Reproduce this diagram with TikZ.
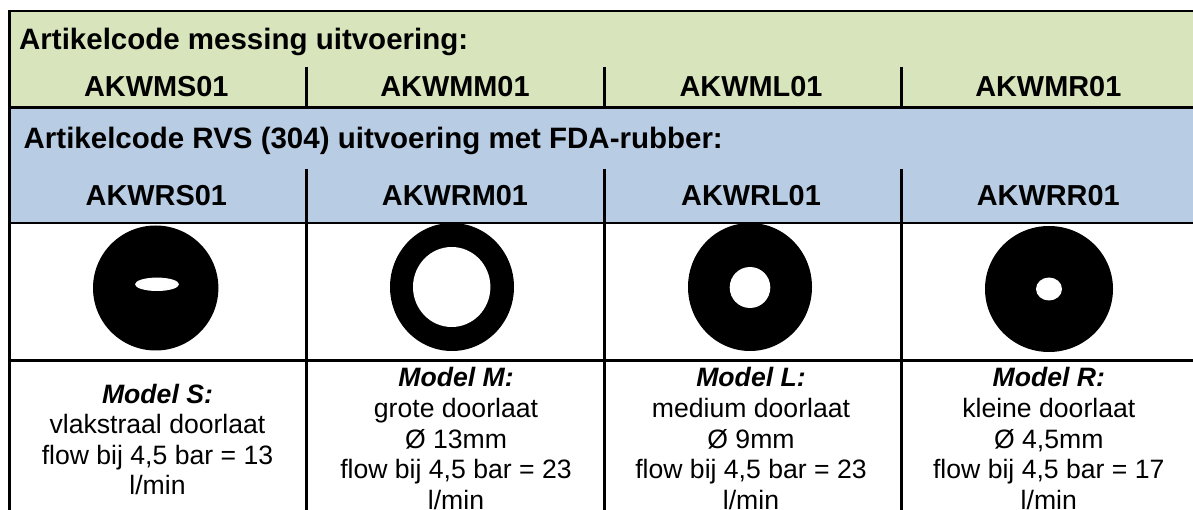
\documentclass[tikz,border=0pt]{standalone}
\usepackage{fontspec}
\setmainfont{Liberation Sans}
\definecolor{grn}{HTML}{D8E4BC}
\definecolor{blu}{HTML}{B8CCE4}
\tikzset{
 line/.style={draw=black,line width=2.6pt},
 code/.style={font=\bfseries\fontsize{29.0}{32}\selectfont,anchor=base,inner sep=0},
 head/.style={font=\bfseries\fontsize{29.6}{32}\selectfont,anchor=base west,inner sep=0},
 desc/.style={font=\fontsize{26.7}{30.7}\selectfont,align=center,anchor=center,inner sep=0},
}
\begin{document}
\begin{tikzpicture}[x=1bp,y=-1bp,every node/.append style={text=black}]
\useasboundingbox (0,0) rectangle (1193,510);
\fill[white] (0,0) rectangle (1193,510);
\fill[grn] (10,11) rectangle (1193,107);
\fill[blu] (10,107) rectangle (1193,223);
\draw[line] (1193,11) -- (9.5,11) -- (9.5,510);
\draw[line] (10,107.5) -- (1193,107.5);
\draw[line] (10,223.2) -- (1193,223.2);
\draw[line] (10,360.5) -- (1193,360.5);
\foreach \x/\w in {306.3/0,604.5/0,901.5/0}{
 \draw[line] (\x,67) -- (\x,107);
 \draw[line] (\x,169) -- (\x,510);
}
\node[head] (h1) at (19,49.3) {Artikelcode messing uitvoering:};
\node[head] (h2) at (23.5,149) {Artikelcode RVS (304) uitvoering met FDA-rubber:};
\node[code] (a1) at (156.3,96.5) {AKWMS01};
\node[code] (a2) at (455,96.5) {AKWMM01};
\node[code] (a3) at (751,96.5) {AKWML01};
\node[code] (a4) at (1048.3,96.5) {AKWMR01};
\node[code] (b1) at (156.3,206) {AKWRS01};
\node[code] (b2) at (455,206) {AKWRM01};
\node[code] (b3) at (751,206) {AKWRL01};
\node[code] (b4) at (1048.3,206) {AKWRR01};
% discs
\fill[black] (155.7,288) ellipse (62.7 and 62.5);
\fill[white] (157,284.3) ellipse (22 and 6.7);
\fill[black] (452,287) ellipse (62 and 64);
\fill[white] (451.7,287) ellipse (38.7 and 40);
\fill[black] (750,287) ellipse (62 and 64);
\fill[white] (750,287.5) ellipse (20.3 and 20.5);
\fill[black] (1049,289) ellipse (64 and 63);
\fill[white] (1049,289) ellipse (13 and 11.5);
\node[desc] (d1) at (157.5,439.5) {\textbf{\textit{Model S:}}\\vlakstraal doorlaat\\flow bij 4,5 bar = 13\\l/min};
\node[desc] (d2) at (456,438.5) {\textbf{\textit{Model M:}}\\grote doorlaat\\Ø 13mm\\flow bij 4,5 bar = 23\\l/min};
\node[desc] (d3) at (751,438.5) {\textbf{\textit{Model L:}}\\medium doorlaat\\Ø 9mm\\flow bij 4,5 bar = 23\\l/min};
\node[desc] (d4) at (1048.8,438.5) {\textbf{\textit{Model R:}}\\kleine doorlaat\\Ø 4,5mm\\flow bij 4,5 bar = 17\\l/min};
\end{tikzpicture}
\end{document}
